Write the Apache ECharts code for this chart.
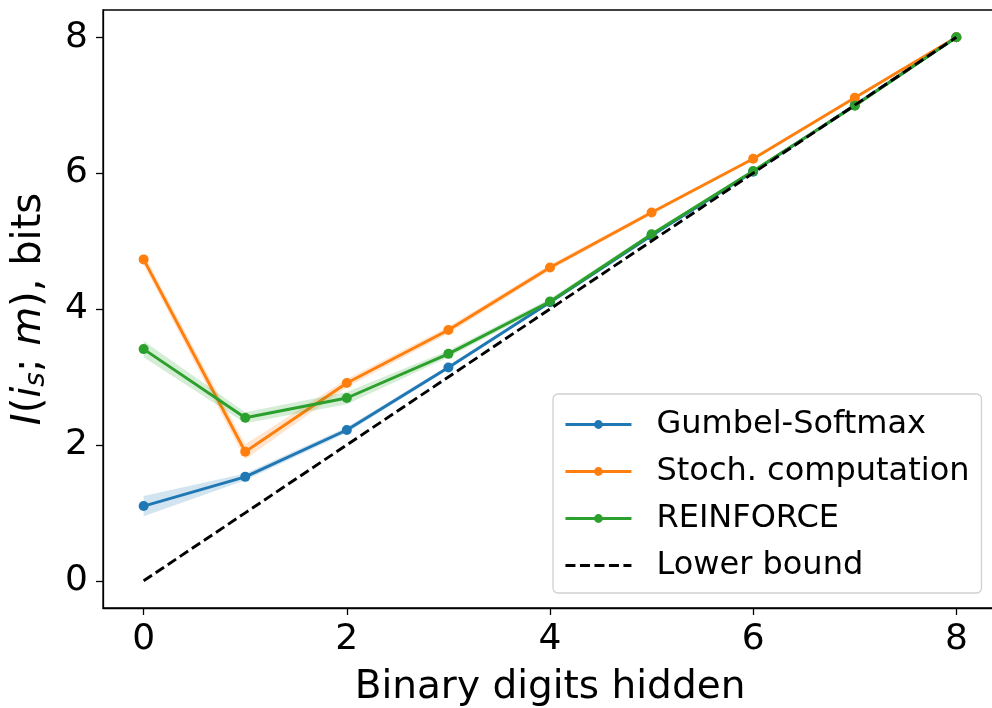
<!DOCTYPE html>
<html>
<head>
<meta charset="utf-8">
<script src="https://cdn.jsdelivr.net/npm/echarts@6/dist/echarts.min.js"></script>
<style>
html,body{margin:0;padding:0;background:#fff;}
#chart{width:992px;height:708px;}
</style>
</head>
<body>
<div id="chart"></div>
<script>
const xs = [0, 1, 2, 3, 4, 5, 6, 7, 8];
const tickValues = [0, 2, 4, 6, 8];
const tickLabels = ['0', '2', '4', '6', '8'];

const gumbel      = [1.10, 1.53, 2.22, 3.14, 4.10, 5.08, 6.02, 7.00, 8.00];
const gumbelLow   = [0.95, 1.48, 2.18, 3.11, 4.08, 5.06, 6.00, 6.98, 7.98];
const gumbelHigh  = [1.25, 1.58, 2.26, 3.17, 4.12, 5.10, 6.04, 7.02, 8.02];

const stoch       = [4.73, 1.90, 2.91, 3.69, 4.61, 5.42, 6.21, 7.11, 8.00];
const stochLow    = [4.65, 1.79, 2.85, 3.64, 4.57, 5.39, 6.19, 7.09, 7.98];
const stochHigh   = [4.81, 2.01, 2.97, 3.74, 4.65, 5.45, 6.23, 7.13, 8.02];

const reinforce     = [3.41, 2.40, 2.69, 3.34, 4.11, 5.10, 6.03, 6.99, 8.00];
const reinforceLow  = [3.29, 2.32, 2.60, 3.29, 4.07, 5.07, 6.01, 6.97, 7.98];
const reinforceHigh = [3.53, 2.48, 2.78, 3.39, 4.15, 5.13, 6.05, 7.01, 8.02];

const lowerBound = [0, 1, 2, 3, 4, 5, 6, 7, 8];

const names = ['Gumbel-Softmax', 'Stoch. computation', 'REINFORCE', 'Lower bound'];
const colors = ['#1f77b4', '#ff7f0e', '#2ca02c', '#000000'];
const bandColors = ['rgba(31,119,180,0.2)', 'rgba(255,127,14,0.2)', 'rgba(44,160,44,0.2)'];

const pairs = (ys) => xs.map((x, i) => [x, ys[i]]);

function bandSeries(low, high, color, z) {
  return {
    type: 'custom',
    silent: true,
    z: z,
    data: [[0]],
    renderItem: function (params, api) {
      const pts = [];
      for (let i = 0; i < xs.length; i++) pts.push(api.coord([xs[i], high[i]]));
      for (let i = xs.length - 1; i >= 0; i--) pts.push(api.coord([xs[i], low[i]]));
      return { type: 'polygon', shape: { points: pts }, style: { fill: color } };
    }
  };
}

function lineSeries(name, ys, color, z) {
  return {
    name: name, type: 'line', data: pairs(ys), z: z,
    symbol: 'circle', symbolSize: 10,
    lineStyle: { color: color, width: 2.9 },
    itemStyle: { color: color },
    emphasis: { disabled: true },
    animation: false
  };
}

const chart = echarts.init(document.getElementById('chart'));
const font = 'DejaVu Sans';
chart.setOption({
  animation: false,
  backgroundColor: '#fff',
  textStyle: { fontFamily: font },
  grid: {
    left: 103, top: 10, right: -5, bottom: 100,
    outerBoundsMode: 'none', containLabel: false,
    show: true, borderColor: '#000', borderWidth: 1.3, backgroundColor: 'transparent'
  },
  xAxis: {
    type: 'value', min: -0.4, max: 8.4,
    name: 'Binary digits hidden', nameLocation: 'middle', nameGap: 60,
    nameTextStyle: { fontSize: 39, color: '#000', fontFamily: font },
    axisLine: { show: true, onZero: false, lineStyle: { color: '#000', width: 1.3 } },
    axisTick: { show: true, length: 7, customValues: tickValues, lineStyle: { color: '#000', width: 1.3 } },
    axisLabel: {
      customValues: tickValues, margin: 14, fontSize: 36, color: '#000', fontFamily: font,
      formatter: (v) => tickLabels[tickValues.indexOf(v)]
    },
    splitLine: { show: false }
  },
  yAxis: {
    type: 'value', min: -0.4, max: 8.4,
    name: '{it|I}({it|i}{sub|s}; {it|m}), bits', nameLocation: 'middle', nameGap: 52, nameRotate: 90,
    nameTextStyle: {
      fontSize: 40, color: '#000', fontFamily: font,
      rich: {
        it: { fontSize: 40, fontStyle: 'italic', fontFamily: font, color: '#000' },
        sub: { fontSize: 28, fontStyle: 'italic', fontFamily: font, color: '#000', verticalAlign: 'bottom', padding: [14, 0, 0, 0] }
      }
    },
    axisLine: { show: true, onZero: false, lineStyle: { color: '#000', width: 1.3 } },
    axisTick: { show: true, length: 7, customValues: tickValues, lineStyle: { color: '#000', width: 1.3 } },
    axisLabel: {
      customValues: tickValues, margin: 15, fontSize: 36, color: '#000', fontFamily: font,
      formatter: (v) => tickLabels[tickValues.indexOf(v)]
    },
    splitLine: { show: false }
  },
  legend: {
    orient: 'vertical', left: 553, top: 394,
    data: [
      { name: names[0], lineStyle: { width: 2.9 } },
      { name: names[1], lineStyle: { width: 2.9 } },
      { name: names[2], lineStyle: { width: 2.9 } },
      { name: names[3], lineStyle: { width: 2.9 }, itemStyle: { opacity: 0 } }
    ],
    backgroundColor: 'rgba(255,255,255,0.8)', borderColor: '#d0d0d0', borderWidth: 1.3, borderRadius: 5,
    padding: [12, 12, 9, 11],
    itemWidth: 66, itemHeight: 11, itemGap: 10,
    textStyle: { fontSize: 32, color: '#000', fontFamily: font, lineHeight: 37, padding: [0, 0, 0, 20] },
    selectedMode: false
  },
  series: [
    bandSeries(gumbelLow, gumbelHigh, bandColors[0], 1),
    lineSeries(names[0], gumbel, colors[0], 2),
    bandSeries(stochLow, stochHigh, bandColors[1], 3),
    lineSeries(names[1], stoch, colors[1], 4),
    bandSeries(reinforceLow, reinforceHigh, bandColors[2], 5),
    lineSeries(names[2], reinforce, colors[2], 6),
    {
      name: names[3], type: 'line', data: pairs(lowerBound), z: 7,
      symbol: 'none', showSymbol: false,
      lineStyle: { color: '#000', width: 2.9, type: [10, 4.5] },
      itemStyle: { color: '#000' },
      emphasis: { disabled: true }
    }
  ]
});
</script>
</body>
</html>
